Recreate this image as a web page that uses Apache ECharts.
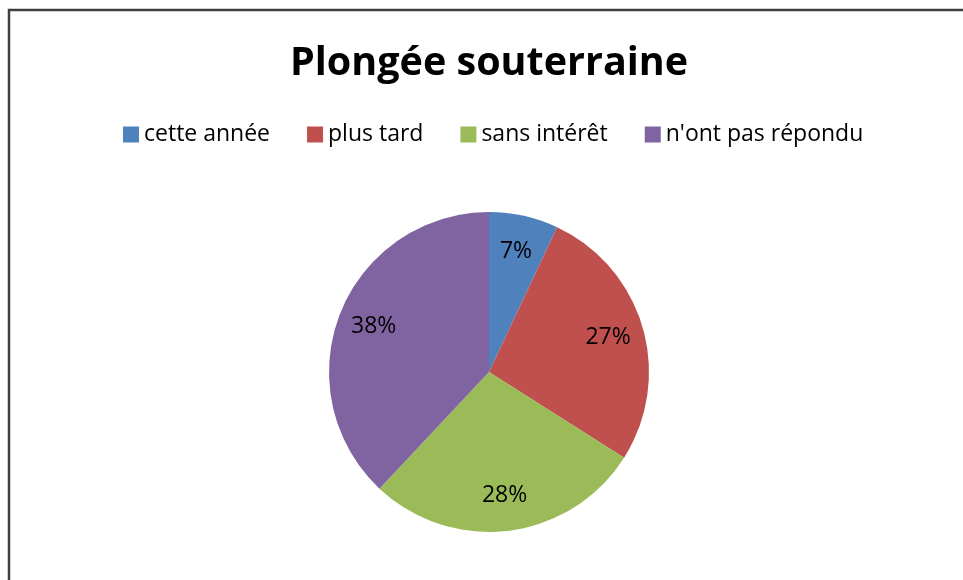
<!DOCTYPE html>
<html>
<head>
<meta charset="utf-8">
<script src="https://cdn.jsdelivr.net/npm/echarts@6/dist/echarts.min.js"></script>
<style>
html,body{margin:0;padding:0;background:#fff;}
#chart{width:963px;height:580px;}
</style>
</head>
<body>
<div id="chart"></div>
<script>
const titleText = 'Plongée souterraine';
const categories = ['cette année', 'plus tard', 'sans intérêt', "n'ont pas répondu"];
const values = [7, 27, 28, 38];
const colors = ['#4F81BD', '#C0504D', '#9BBB59', '#8064A2'];

const fontFam = '"Open Sans", "Liberation Sans", sans-serif';
const chart = echarts.init(document.getElementById('chart'));
const pieData = categories.map((c, i) => ({ name: c, value: values[i], itemStyle: { color: colors[i] } }));

chart.setOption({
  animation: false,
  backgroundColor: '#fff',
  graphic: [{
    type: 'rect',
    shape: { x: 9, y: 10, width: 1000, height: 1000 },
    style: { fill: 'none', stroke: '#404040', lineWidth: 2.5 },
    silent: true
  }],
  title: {
    text: titleText,
    left: 290,
    top: 42,
    textStyle: { fontFamily: fontFam, fontWeight: 'bold', fontSize: 39.5, color: '#000', lineHeight: 44 },
    padding: 0
  },
  legend: {
    data: categories,
    left: 123,
    top: 123,
    icon: 'rect',
    itemWidth: 16,
    itemHeight: 16,
    itemGap: 37,
    padding: 0,
    selectedMode: false,
    textStyle: { fontFamily: fontFam, fontSize: 23, color: '#000', padding: [0, 0, 0, 0] }
  },
  series: [{
    type: 'pie',
    center: [489, 372],
    radius: [0, 160],
    startAngle: 90,
    clockwise: true,
    silent: true,
    label: { show: false },
    labelLine: { show: false },
    itemStyle: { borderWidth: 0 },
    data: pieData
  }, {
    type: 'pie',
    center: [489, 372],
    radius: [82, 160],
    startAngle: 90,
    clockwise: true,
    silent: true,
    legendHoverLink: false,
    itemStyle: { color: 'rgba(0,0,0,0)', borderWidth: 0 },
    label: {
      show: true,
      position: 'inside',
      formatter: '{d}%',
      fontFamily: fontFam,
      fontSize: 23,
      color: '#000'
    },
    labelLine: { show: false },
    data: categories.map((c, i) => ({ name: c, value: values[i] }))
  }]
});
</script>
</body>
</html>
